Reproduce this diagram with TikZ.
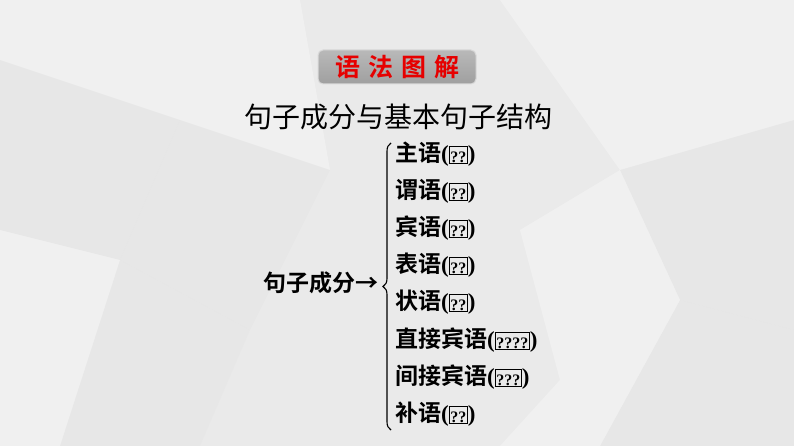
\documentclass[tikz,border=0pt]{standalone}
\usepackage{fontspec}
\newfontfamily\cjk{Noto Sans CJK SC}
\newfontfamily\cjkb{Noto Sans CJK SC Bold}
\newfontfamily\latb{Liberation Serif}[BoldFont={Liberation Serif Bold}]
\usetikzlibrary{decorations.pathreplacing}
\newcommand\tofubox[1]{{\setlength\fboxsep{0.3pt}\setlength\fboxrule{1.2pt}\raisebox{-1pt}{\fbox{\fontsize{16}{17}\latb\bfseries\rule{0pt}{15pt}#1}}}}
\newcommand\lp{{\latb\bfseries(}}
\newcommand\rp{{\latb\bfseries)}}
\definecolor{bg}{RGB}{234,234,234}
\definecolor{titred}{RGB}{230,0,0}
\tikzset{
  item/.style={anchor=west,inner sep=0pt,font=\fontsize{23}{26}\cjkb,text=black},
  facet/.style={fill=white,opacity=0.3,draw=none},
  facetd/.style={fill=gray!40,opacity=0.08,draw=none}
}
\begin{document}
\begin{tikzpicture}[x=1pt,y=-1pt]
\useasboundingbox (0,0) rectangle (794,446);
\fill[bg] (0,0) rectangle (794,446);
% faint background facets
\fill[facet] (0,0) -- (300,0) -- (180,120) -- (0,60) -- cycle;
\fill[facetd] (0,60) -- (180,120) -- (120,260) -- (0,230) -- cycle;
\fill[facet] (180,120) -- (300,0) -- (330,170) -- cycle;
\fill[facetd] (120,260) -- (180,120) -- (330,170) -- (250,330) -- cycle;
\fill[facet] (0,230) -- (120,260) -- (60,446) -- (0,446) -- cycle;
\fill[facetd] (120,260) -- (250,330) -- (200,446) -- (60,446) -- cycle;
\fill[facet] (500,0) -- (794,0) -- (794,120) -- (620,170) -- cycle;
\fill[facetd] (620,170) -- (794,120) -- (794,330) -- (680,300) -- cycle;
\fill[facet] (520,230) -- (620,170) -- (680,300) -- (560,380) -- cycle;
\fill[facetd] (680,300) -- (794,330) -- (794,446) -- (600,446) -- cycle;
\fill[facet] (560,380) -- (680,300) -- (600,446) -- (500,446) -- cycle;
% title box
\shade[top color=gray!55,bottom color=gray!75,rounded corners=5pt,draw=gray!30,line width=1pt]
  (318,50) rectangle (476,84);
\node[inner sep=0pt,text=titred,font=\fontsize{25}{28}\cjkb] (title) at (397,67)
  {语\hspace{8pt}法\hspace{8pt}图\hspace{8pt}解};
\node[inner sep=0pt,font=\fontsize{28}{32}\cjk] (sub) at (398,117) {句子成分与基本句子结构};
% root
\node[anchor=east,inner sep=0pt,font=\fontsize{23}{26}\cjkb] (root) at (379,283) {句子成分→};
% items
\node[item] (i1) at (395,154) {主语\lp\tofubox{??}\rp};
\node[item] (i2) at (395,191) {谓语\lp\tofubox{??}\rp};
\node[item] (i3) at (395,228) {宾语\lp\tofubox{??}\rp};
\node[item] (i4) at (395,265) {表语\lp\tofubox{??}\rp};
\node[item] (i5) at (395,302) {状语\lp\tofubox{??}\rp};
\node[item] (i6) at (395,340) {直接宾语\lp\tofubox{????}\rp};
\node[item] (i7) at (395,377) {间接宾语\lp\tofubox{???}\rp};
\node[item] (i8) at (395,414) {补语\lp\tofubox{??}\rp};
% brace
\coordinate (bt) at (391,143);
\coordinate (bb) at (391,430);
\draw[line width=1.1pt,decorate,decoration={brace,amplitude=8pt}] (bb) -- (bt);
\end{tikzpicture}
\end{document}
